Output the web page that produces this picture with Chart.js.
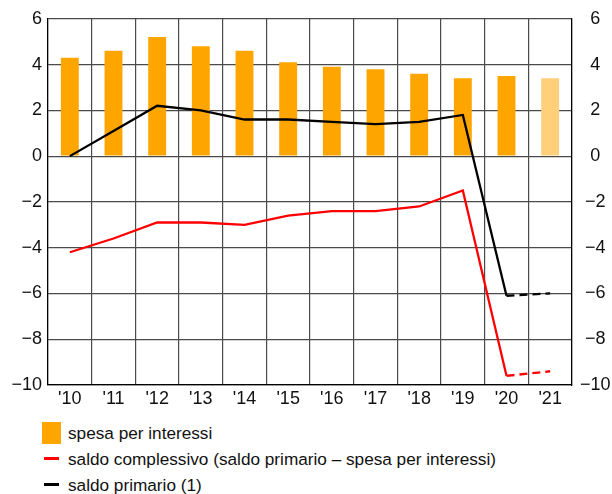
<!DOCTYPE html>
<html lang="it">
<head>
<meta charset="utf-8">
<script src="https://cdn.jsdelivr.net/npm/chart.js@4/dist/chart.umd.min.js"></script>
<style>
  html, body { margin: 0; padding: 0; background: #fff; }
  #wrap { position: relative; width: 612px; height: 494px; font-family: "Liberation Sans", Arial, sans-serif; }
  #box { position: absolute; left: 0; top: 0; width: 612px; height: 410px; }
  #legend { position: absolute; left: 42px; top: 420px; color: #111; font-size: 17.2px; }
  .item { display: flex; align-items: center; height: 26px; }
  .sw { width: 26px; flex: none; position: relative; height: 22px; }
  .sw.bar span { position: absolute; left: 0; top: 0; width: 19px; height: 22px; }
  .sw.line span { position: absolute; left: 2px; top: 9px; width: 15px; height: 3px; }
</style>
</head>
<body>
<div id="wrap">
  <div id="box"><canvas id="c"></canvas></div>
  <div id="legend"></div>
</div>
<script>
// Years (2010-2021)
const years = ["'10", "'11", "'12", "'13", "'14", "'15", "'16", "'17", "'18", "'19", "'20", "'21"];
// Interest expenditure (% of GDP)
const spesaInteressi = [4.3, 4.6, 5.2, 4.8, 4.6, 4.1, 3.9, 3.8, 3.6, 3.4, 3.5, 3.4];
// Overall balance
const saldoComplessivo = [-4.2, -3.6, -2.9, -2.9, -3.0, -2.6, -2.4, -2.4, -2.2, -1.5, -9.6, -9.4];
// Primary balance
const saldoPrimario = [0.0, 1.1, 2.2, 2.0, 1.6, 1.6, 1.5, 1.4, 1.5, 1.8, -6.1, -6.0];
// Value axis ticks
const yTicks = [-10, -8, -6, -4, -2, 0, 2, 4, 6];

const ORANGE = '#FFA500';
const ORANGE_LIGHT = '#FFCF7A';
const GRID = '#4a4a4a';
const TICK_FONT = { family: 'Liberation Sans', size: 18 };

// the last year is a forecast: lighter bar, dashed segment
const lastForecast = years.length - 1;
const dashForecast = ctx => ctx.p1DataIndex >= lastForecast ? [8, 5] : undefined;

const fmt = v => (v < 0 ? '\u2212' + Math.abs(v) : String(v));

const chart = new Chart(document.getElementById('c'), {
  type: 'bar',
  data: {
    labels: years,
    datasets: [
      {
        type: 'line',
        label: 'saldo complessivo (saldo primario \u2013 spesa per interessi)',
        data: saldoComplessivo,
        borderColor: '#FF0000',
        backgroundColor: '#FF0000',
        borderWidth: 2.3,
        pointRadius: 0,
        tension: 0,
        segment: { borderDash: dashForecast },
        order: 0
      },
      {
        type: 'line',
        label: 'saldo primario (1)',
        data: saldoPrimario,
        borderColor: '#000000',
        backgroundColor: '#000000',
        borderWidth: 2.3,
        pointRadius: 0,
        tension: 0,
        segment: { borderDash: dashForecast },
        order: 0
      },
      {
        type: 'bar',
        label: 'spesa per interessi',
        data: spesaInteressi,
        backgroundColor: spesaInteressi.map((v, i) => i >= lastForecast ? ORANGE_LIGHT : ORANGE),
        barPercentage: 0.41,
        categoryPercentage: 1,
        order: 1
      }
    ]
  },
  options: {
    responsive: true,
    maintainAspectRatio: false,
    animation: false,
    layout: { padding: { top: 18, left: 0, right: 0, bottom: 0 } },
    plugins: { legend: { display: false }, tooltip: { enabled: false } },
    scales: {
      x: {
        offset: true,
        grid: { offset: true, color: GRID, lineWidth: 1.2, drawTicks: false },
        border: { color: '#000', width: 1.2 },
        ticks: { color: '#111', font: TICK_FONT, padding: 3, maxRotation: 0, autoSkip: false },
        afterFit: s => { s.height = 25; }
      },
      y: {
        position: 'left',
        min: -10, max: 6,
        afterBuildTicks: s => { s.ticks = yTicks.map(v => ({ value: v })); },
        grid: { color: GRID, lineWidth: 1.2, drawTicks: false },
        border: { color: '#000', width: 1.2 },
        ticks: { color: '#111', font: TICK_FONT, padding: 6, callback: v => fmt(v) },
        afterFit: s => { s.width = 48; }
      },
      y2: {
        position: 'right',
        min: -10, max: 6,
        afterBuildTicks: s => { s.ticks = yTicks.map(v => ({ value: v })); },
        grid: { display: false, drawTicks: false },
        border: { color: '#000', width: 1.2 },
        ticks: { color: '#111', font: TICK_FONT, padding: 8, crossAlign: 'center', callback: v => fmt(v) },
        afterFit: s => { s.width = 40; }
      }
    }
  }
});

// Legend: bars first, then the two balances
const legend = document.getElementById('legend');
const ds = chart.data.datasets;
[ds[2], ds[0], ds[1]].forEach(d => {
  const row = document.createElement('div');
  row.className = 'item';
  const sw = document.createElement('div');
  sw.className = 'sw ' + (d.type === 'bar' ? 'bar' : 'line');
  const mark = document.createElement('span');
  mark.style.background = d.type === 'bar' ? ORANGE : d.borderColor;
  sw.appendChild(mark);
  const txt = document.createElement('span');
  txt.textContent = d.label;
  row.appendChild(sw);
  row.appendChild(txt);
  legend.appendChild(row);
});
</script>
</body>
</html>
